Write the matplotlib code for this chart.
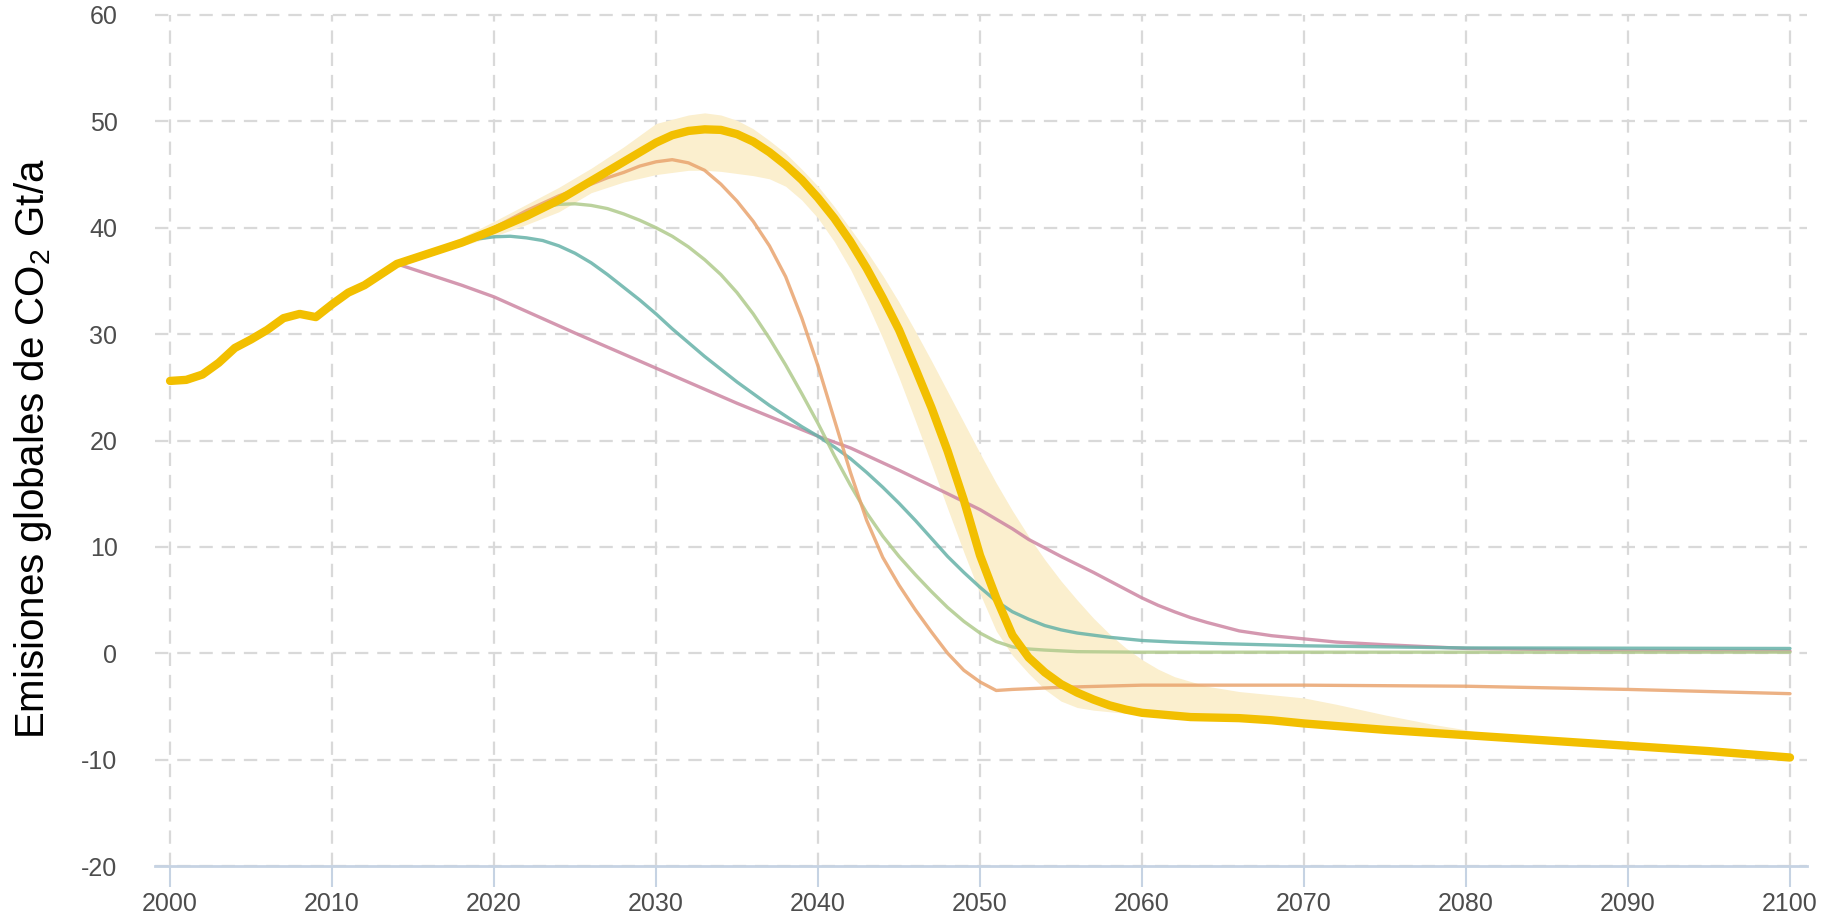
import numpy as np
import matplotlib.pyplot as plt

plt.rcParams['font.family'] = ['Liberation Sans', 'DejaVu Sans']
plt.rcParams['axes.unicode_minus'] = False

# main pathway (thick yellow)
main_years = [2000, 2001, 2002, 2003, 2004, 2005, 2006, 2007, 2008, 2009, 2010, 2011, 2012, 2013, 2014,
              2016, 2018, 2020, 2022, 2024, 2026, 2028, 2029, 2030, 2031, 2032, 2033, 2034, 2035, 2036,
              2037, 2038, 2039, 2040, 2041, 2042, 2043, 2044, 2045, 2046, 2047, 2048, 2049, 2050, 2051,
              2052, 2053, 2054, 2055, 2056, 2057, 2058, 2059, 2060, 2063, 2066, 2068, 2070, 2075, 2080,
              2085, 2090, 2095, 2100]
main_vals = [25.6, 25.7, 26.2, 27.3, 28.7, 29.5, 30.4, 31.5, 31.9, 31.6, 32.8, 33.9, 34.6, 35.6, 36.6,
             37.6, 38.6, 39.8, 41.1, 42.6, 44.4, 46.2, 47.1, 48.0, 48.7, 49.1, 49.25, 49.2, 48.8, 48.1,
             47.1, 45.9, 44.5, 42.8, 40.9, 38.7, 36.2, 33.4, 30.4, 26.8, 23.1, 19.0, 14.4, 9.2, 5.2,
             1.7, -0.4, -1.8, -2.9, -3.7, -4.35, -4.9, -5.3, -5.6, -6.0, -6.1, -6.3, -6.6, -7.2, -7.7,
             -8.2, -8.7, -9.2, -9.8]

# uncertainty band around the main pathway
band_years = [2014, 2016, 2018, 2020, 2022, 2024, 2026, 2028, 2030, 2032, 2033, 2034, 2035, 2036, 2037,
              2038, 2039, 2040, 2041, 2042, 2043, 2044, 2045, 2046, 2047, 2048, 2049, 2050, 2051, 2052,
              2053, 2054, 2055, 2056, 2057, 2058, 2059, 2060, 2061, 2062, 2064, 2066, 2068, 2070, 2072,
              2075, 2078, 2080, 2082]
band_hi = [36.6, 37.9, 39.1, 40.6, 42.2, 43.8, 45.6, 47.6, 49.8, 50.6, 50.8, 50.6, 50.1, 49.3, 48.2,
           47.0, 45.5, 43.9, 42.0, 39.9, 37.8, 35.5, 33.0, 30.3, 27.5, 24.6, 21.7, 18.8, 16.0, 13.4,
           11.0, 8.8, 6.8, 5.0, 3.3, 1.8, 0.5, -0.6, -1.5, -2.2, -3.1, -3.6, -3.9, -4.2, -4.8,
           -5.8, -6.7, -7.2, -7.85]
band_lo = [36.6, 37.4, 38.3, 39.2, 40.3, 41.5, 43.3, 44.3, 45.0, 45.4, 45.4, 45.3, 45.1, 44.9, 44.6,
           43.9, 42.6, 40.9, 38.7, 36.1, 33.0, 29.6, 25.9, 21.9, 17.8, 13.6, 9.5, 5.6, 2.1, -0.2,
           -1.9, -3.4, -4.5, -5.1, -5.35, -5.5, -5.65, -5.8, -5.9, -6.0, -6.1, -6.2, -6.4, -6.7, -6.9,
           -7.2, -7.5, -7.7, -7.85]

# other scenarios (thin lines)
pink_years = [2014, 2016, 2018, 2020, 2025, 2030, 2035, 2040, 2042, 2045, 2048, 2050, 2052, 2053, 2055,
              2057, 2059, 2060, 2061, 2062, 2063, 2064, 2066, 2068, 2070, 2072, 2075, 2080, 2090, 2100]
pink_vals = [36.6, 35.6, 34.6, 33.5, 30.1, 26.8, 23.5, 20.4, 19.3, 17.2, 15.0, 13.5, 11.7, 10.7, 9.1,
             7.6, 6.0, 5.2, 4.5, 3.9, 3.35, 2.9, 2.1, 1.65, 1.35, 1.05, 0.8, 0.45, 0.25, 0.2]

teal_years = [2014, 2016, 2018, 2019, 2020, 2021, 2022, 2023, 2024, 2025, 2026, 2027, 2028, 2029, 2030,
              2031, 2032, 2033, 2034, 2035, 2036, 2037, 2038, 2039, 2040, 2041, 2042, 2043, 2044, 2045,
              2046, 2047, 2048, 2049, 2050, 2051, 2052, 2053, 2054, 2055, 2056, 2057, 2058, 2060, 2062,
              2065, 2070, 2080, 2100]
teal_vals = [36.6, 37.6, 38.6, 38.95, 39.15, 39.2, 39.05, 38.8, 38.3, 37.6, 36.7, 35.6, 34.4, 33.2, 31.9,
             30.5, 29.2, 27.9, 26.7, 25.5, 24.4, 23.3, 22.3, 21.3, 20.4, 19.4, 18.3, 17.0, 15.6, 14.1,
             12.5, 10.8, 9.1, 7.6, 6.2, 4.9, 3.9, 3.2, 2.6, 2.2, 1.9, 1.7, 1.5, 1.2, 1.05,
             0.9, 0.7, 0.5, 0.45]

green_years = [2014, 2016, 2018, 2019, 2020, 2021, 2022, 2023, 2024, 2025, 2026, 2027, 2028, 2029, 2030,
               2031, 2032, 2033, 2034, 2035, 2036, 2037, 2038, 2039, 2040, 2041, 2042, 2043, 2044, 2045,
               2046, 2047, 2048, 2049, 2050, 2051, 2052, 2053, 2054, 2056, 2060, 2100]
green_vals = [36.6, 37.6, 38.6, 39.3, 40.0, 40.7, 41.4, 41.9, 42.2, 42.25, 42.1, 41.8, 41.3, 40.7, 40.0,
              39.2, 38.2, 37.0, 35.6, 33.9, 31.9, 29.6, 27.1, 24.4, 21.6, 18.6, 15.8, 13.2, 11.0, 9.1,
              7.4, 5.8, 4.3, 3.0, 1.9, 1.1, 0.6, 0.4, 0.3, 0.15, 0.1, 0.1]

orange_years = [2014, 2016, 2018, 2020, 2022, 2024, 2026, 2027, 2028, 2029, 2030, 2031, 2032, 2033, 2034,
                2035, 2036, 2037, 2038, 2039, 2040, 2041, 2042, 2043, 2044, 2045, 2046, 2047, 2048, 2049,
                2050, 2051, 2052, 2055, 2060, 2070, 2080, 2090, 2100]
orange_vals = [36.6, 37.6, 38.7, 40.0, 41.6, 43.0, 44.1, 44.7, 45.2, 45.8, 46.2, 46.4, 46.1, 45.4, 44.1,
               42.5, 40.6, 38.3, 35.4, 31.5, 27.0, 22.0, 17.0, 12.5, 9.0, 6.4, 4.1, 2.0, 0.0, -1.6,
               -2.7, -3.5, -3.4, -3.2, -3.0, -3.0, -3.1, -3.4, -3.8]

x_ticks = list(range(2000, 2101, 10))
y_ticks = list(range(-20, 61, 10))

fig = plt.figure(figsize=(18.34, 9.18), dpi=100)
ax = fig.add_axes([155 / 1834, 1 - 866 / 918, (1807 - 155) / 1834, (866 - 15) / 918])

ax.fill_between(band_years, band_lo, band_hi, color='#fbefce', lw=0, zorder=2)

thin = dict(lw=2.4, alpha=0.85, solid_capstyle='round', solid_joinstyle='round', zorder=3)
ax.plot(pink_years, pink_vals, color='#cd86a2', **thin)
ax.plot(teal_years, teal_vals, color='#66b2a8', **thin)
ax.plot(green_years, green_vals, color='#b0ca8c', **thin)
ax.plot(orange_years, orange_vals, color='#e9a46e', **thin)
ax.plot(main_years, main_vals, color='#f2bf00', lw=6, solid_capstyle='round',
        solid_joinstyle='round', zorder=4)

ax.set_xlim(1999.07, 2101.05)
ax.set_ylim(-20, 60)
ax.set_xticks(x_ticks)
ax.set_yticks(y_ticks)
ax.grid(True, color='#d9d9d9', linestyle=(0, (6, 4)), linewidth=1.6, zorder=1)
ax.set_axisbelow(True)
for gl in ax.get_ygridlines():
    gl.set_clip_on(False)

for s in ['top', 'left', 'right']:
    ax.spines[s].set_visible(False)
ax.spines['bottom'].set_color('#c6d3e3')
ax.spines['bottom'].set_linewidth(2)

ax.tick_params(axis='x', length=15, width=1.5, color='#c6d3e3', pad=4,
               labelsize=18, labelcolor='#4d4d4d')
ax.tick_params(axis='y', length=0, pad=27, labelsize=18, labelcolor='#4d4d4d')

fig.text(33 / 1834, 1 - 449 / 918, 'Emisiones globales de CO$_\\mathregular{2}$ Gt/a',
         rotation=90, ha='center', va='center', fontsize=29, color='black')

fig.savefig('out.png', dpi=100)
